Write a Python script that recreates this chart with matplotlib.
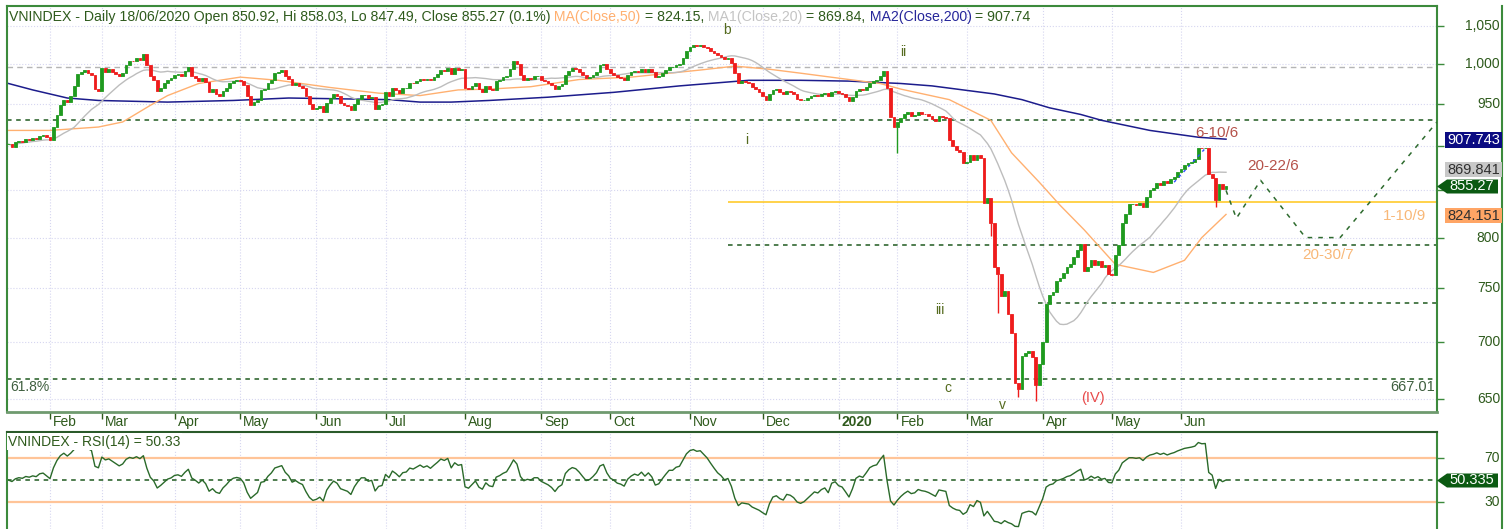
import numpy as np
import pandas as pd
import matplotlib
matplotlib.use("Agg")
import matplotlib.pyplot as plt
from matplotlib.ticker import NullLocator
from matplotlib.patches import Rectangle, Polygon
from matplotlib.lines import Line2D

plt.rcParams['font.family'] = ['Liberation Sans', 'DejaVu Sans']

# daily closes, one list per month
jan19 = [902, 899, 904, 906, 905, 908, 907, 909, 908, 912, 913, 910]
feb19 = [907, 922, 936, 948, 955, 952, 960, 972, 987, 990, 992, 988, 986, 968, 966]
mar19 = [994, 990, 993, 990, 987, 984, 988, 999, 1004, 1003, 1007, 1005, 1012, 998, 985, 979, 966, 970, 975, 980, 982]
apr19 = [986, 987, 985, 991, 996, 985, 982, 978, 982, 977, 965, 968, 962, 960, 966, 970, 975, 978, 979]
may19 = [978, 973, 960, 949, 952, 955, 967, 968, 975, 980, 988, 990, 992, 985, 981, 973, 975, 972, 970, 960, 950, 944]
jun19 = [945, 947, 940, 951, 957, 962, 959, 951, 949, 947, 942, 950, 956, 961, 961, 957, 958, 944, 949, 950]
jul19 = [964, 960, 970, 967, 963, 969, 970, 976, 975, 978, 981, 979, 981, 979, 983, 987, 992, 991, 994, 987, 994, 992, 993]
aug19 = [970, 968, 972, 976, 968, 965, 972, 968, 967, 978, 980, 983, 985, 993, 1004, 1000, 986, 980, 982, 981, 984, 984]
sep19 = [980, 978, 976, 973, 968, 972, 974, 986, 991, 994, 993, 990, 986, 982, 983, 986, 990, 998, 1000, 993]
oct19 = [988, 986, 983, 982, 980, 986, 989, 991, 990, 993, 990, 993, 990, 983, 984, 988, 992, 996, 996, 999, 1000, 1007, 1016]
nov19 = [1022, 1024, 1023, 1024, 1022, 1020, 1017, 1014, 1011, 1009, 1006, 1007, 1001, 988, 976, 978, 977, 976, 971, 968, 965]
dec19 = [960, 955, 962, 967, 968, 964, 962, 966, 965, 962, 956, 954, 955, 957, 959, 961, 960, 962, 963, 959, 965, 966]
jan20 = [963, 962, 958, 953, 958, 966, 968, 967, 971, 976, 978, 979, 985, 991, 970, 934, 922]
feb20 = [928, 933, 937, 940, 935, 936, 940, 938, 937, 935, 932, 929, 935, 934, 933, 907, 900, 895, 893, 880]
mar20 = [882, 889, 884, 890, 886, 836, 842, 815, 770, 763, 742, 747, 725, 708, 664, 659, 687, 690, 692, 686, 662, 680]
apr20 = [700, 735, 743, 746, 757, 760, 764, 770, 773, 780, 787, 793, 766, 770, 777, 772, 776, 770, 772, 763]
may20 = [762, 782, 792, 815, 825, 835, 835, 834, 836, 832, 843, 850, 853, 858, 856, 860, 858, 862, 865, 870]
jun20 = [874, 878, 880, 882, 885, 898, 897, 898, 868, 864, 840, 857, 852, 855.27]

# long lower wicks (candle index -> low)
wick_idx = [257, 284, 286, 292, 297, 349]
wick_low = [892, 802, 726, 652, 649, 832]

# moving averages (candle index, value)
ma50_idx = [0, 12, 26, 33, 41, 46, 55, 67, 78, 93, 107, 119, 130, 139, 151, 165, 180, 200, 210, 220,
            229, 243, 252, 258, 272, 284, 290, 298, 304, 311, 320, 331, 340, 345, 352]
ma50_val = [918, 918, 922, 928, 948, 960, 975, 983, 979, 970, 963, 960, 967, 968, 971, 980, 983, 992, 997, 993,
            988, 980, 975, 968, 955, 930, 892, 859, 834, 808, 773, 765, 777, 800, 824.15]
ma200_idx = [0, 7, 17, 26, 46, 65, 81, 96, 110, 119, 128, 139, 156, 175, 194, 214, 229, 243, 258, 267,
             285, 293, 301, 310, 316, 330, 344, 352]
ma200_val = [975, 967, 957, 954, 952, 954, 957, 956, 955, 952, 952, 954, 958, 964, 972, 979, 979, 978, 975, 972,
             962, 955, 945, 937, 930, 918, 910, 907.74]

# projection path drawn after the last candle
proj_idx = [352, 355, 362, 375, 385, 413]
proj_val = [850, 820, 861, 800, 800, 928]
trend_idx = [337, 346]
trend_val = [859, 897]

holidays = ["2019-02-04", "2019-02-05", "2019-02-06", "2019-02-07", "2019-02-08", "2019-04-15",
            "2019-04-29", "2019-04-30", "2019-05-01", "2019-09-02", "2020-01-01", "2020-01-23",
            "2020-01-24", "2020-01-27", "2020-01-28", "2020-01-29", "2020-04-02", "2020-04-30", "2020-05-01"]

closes = np.array(jan19 + feb19 + mar19 + apr19 + may19 + jun19 + jul19 + aug19 + sep19 + oct19
                  + nov19 + dec19 + jan20 + feb20 + mar20 + apr20 + may20 + jun20, dtype=float)
dates = pd.bdate_range("2019-01-16", "2020-06-18")
dates = dates[~dates.isin(pd.to_datetime(holidays))]
n = len(closes)
x = np.arange(n)
opens = np.concatenate([[closes[0]], closes[:-1]])

ma20 = pd.Series(closes).rolling(20, min_periods=1).mean()

# Wilder RSI(14), started from a neutral state
rsi = np.full(n, 50.0)
ag, al = 4.0, 4.0
for i in range(1, n):
    ch = closes[i] - closes[i - 1]
    ag = (ag * 13 + max(ch, 0)) / 14
    al = (al * 13 + max(-ch, 0)) / 14
    rsi[i] = 100 - 100 / (1 + ag / al)

W, H = 1510, 529
fig = plt.figure(figsize=(W / 100, H / 100), dpi=100)
def fx(px): return px / W
def fy(py): return 1 - py / H

DK = "#2e5a1c"
FRAME = "#3c8a3c"
GRID = "#d6d6f0"

ax = fig.add_axes([fx(7), fy(412), 1430 / W, 406 / H])
ax2 = fig.add_axes([fx(7), 0, 1430 / W, 97 / H])

xl = (-0.43, 413.0)
ax.set_xlim(*xl)
ax2.set_xlim(*xl)
ax.set_yscale("log")
ax.set_ylim(639.5, 1077)
ax2.set_ylim(6.4, 92.7)

# month ticks
first = pd.Series(x, index=dates).groupby([dates.year, dates.month]).first()
mpos, mlab = [], []
for (yy, mm), i in first.items():
    if i == 0:
        continue
    mpos.append(i)
    mlab.append(str(yy) if mm == 1 else pd.Timestamp(yy, mm, 1).strftime("%b"))
for a in (ax, ax2):
    a.set_xticks(mpos)
    a.set_xticklabels([])
    for p in mpos:
        a.axvline(p, color=GRID, lw=0.8, ls=":", zorder=0)
ax.tick_params(axis="x", direction="out", length=5, color=DK, width=1)
ax2.tick_params(axis="x", length=0)
for p, lab in zip(mpos, mlab):
    ax.text(p + 0.9, -0.025, lab, transform=ax.get_xaxis_transform(), ha="left", va="center",
            fontsize=10, color=DK, fontweight="bold" if lab == "2020" else "normal", clip_on=False)

# price axis (900 and 850 sit under the value boxes)
yt = [650, 700, 750, 800, 850, 900, 950, 1000, 1050]
ax.yaxis.tick_right()
ax.set_yticks(yt)
ax.yaxis.set_minor_locator(NullLocator())
ax.set_yticklabels([])
ax.tick_params(axis="y", direction="out", length=5, color=FRAME, width=1)
for v in yt:
    ax.axhline(v, color=GRID, lw=0.8, ls=":", zorder=0)
    if v in (850, 900):
        continue
    py = 399.3 - 779 * np.log(v / 650)
    fig.text(fx(1500), fy(py), f"{v:,}", ha="right", va="center", fontsize=10, color=DK)

# reference levels
dash = (0, (3, 3))
ax.axhline(996, color="#b5b5b5", lw=1, ls=(0, (4, 3)), zorder=1)
ax.axhline(930, color="#1f5a1f", lw=1.1, ls=dash, zorder=1)
ax.axhline(667.01, color="#1f5a1f", lw=1.1, ls=dash, zorder=1)
ax.hlines(792, 208, xl[1], color="#1f5a1f", lw=1.1, ls=dash, zorder=1)
ax.hlines(735.5, 297.6, xl[1], color="#1f5a1f", lw=1.1, ls=dash, zorder=1)
ax.hlines(837, 208, xl[1], color="#ffc61a", lw=1.1, zorder=1)

# moving averages
ax.plot(ma200_idx, ma200_val, color="#1c1c8c", lw=1.1, zorder=2)
ax.plot(ma50_idx, ma50_val, color="#ffb070", lw=1, zorder=2)
ax.plot(x, ma20, color="#bdbdbd", lw=1, zorder=2)

# candles
up = closes >= opens
col = np.where(up, "#1f9a1f", "#ee1c1c")
ax.vlines(wick_idx, wick_low, [min(opens[i], closes[i]) for i in wick_idx],
          color=[col[i] for i in wick_idx], lw=1, zorder=3)
ax.bar(x, closes - opens, bottom=opens, width=0.8, color=col, edgecolor=col, lw=0.6, zorder=3)

ax.plot(proj_idx, proj_val, color="#2e6b2e", lw=1.1, ls=(0, (3, 4)), zorder=3)
ax.plot(trend_idx, trend_val, color="#3050ff", lw=1, ls=(0, (2, 3)), zorder=3)

# wave labels
OL = "#556b1f"
for s, xi, yv in [("b", 207.7, 1044), ("ii", 258.6, 1015), ("i", 213.5, 906.8), ("iii", 269.3, 729),
                  ("c", 271.6, 659.5), ("v", 287.5, 645.3)]:
    ax.text(xi, yv, s, ha="center", va="center", fontsize=10, color=OL, zorder=5)
ax.text(313.5, 651, "(IV)", ha="center", va="center", fontsize=10.5, color="#e84a4a", zorder=5)
ax.text(349.4, 915, "6-10/6", ha="center", va="center", fontsize=11, color="#b5524a", zorder=5)
ax.text(365.6, 877, "20-22/6", ha="center", va="center", fontsize=11, color="#b5524a", zorder=5)
ax.text(403.6, 822.5, "1-10/9", ha="center", va="center", fontsize=11, color="#f8b878", zorder=5)
ax.text(381.6, 782.3, "20-30/7", ha="center", va="center", fontsize=11, color="#f8b878", zorder=5)
ax.text(0.6, 660.3, "61.8%", ha="left", va="center", fontsize=10, color="#3f5f3f", zorder=5)
ax.text(412.4, 660.3, "667.01", ha="right", va="center", fontsize=10.5, color="#3f5f3f", zorder=5)

# RSI panel
ax2.axhline(70, color="#ffc498", lw=1.6, zorder=1)
ax2.axhline(30, color="#ffc498", lw=1.6, zorder=1)
ax2.axhline(50, color="#1f5a1f", lw=1.1, ls=dash, zorder=1)
ax2.plot(x, rsi, color="#2a6a2a", lw=1, zorder=2)
ax2.yaxis.tick_right()
ax2.set_yticks([30, 70])
ax2.set_yticklabels([])
ax2.tick_params(axis="y", direction="out", length=5, color=FRAME, width=1)
for v in (30, 70):
    fig.text(fx(1500), fy(480 - (v - 50) * 1.125), str(v), ha="right", va="center", fontsize=10, color=DK)
ax2.text(0.001, 0.9, "VNINDEX - RSI(14) = 50.33", transform=ax2.transAxes, ha="left", va="center",
         fontsize=10, color=DK, zorder=6, bbox=dict(facecolor="white", edgecolor="none", pad=1))

# frames
for a in (ax, ax2):
    for sp in a.spines.values():
        sp.set_color(FRAME)
        sp.set_linewidth(1.5)
ax.spines["bottom"].set_color("#6f9a6f")
ax.spines["bottom"].set_linewidth(2)
ax2.spines["top"].set_color("#2a5a2a")
ax2.spines["bottom"].set_visible(False)
fig.add_artist(Line2D([fx(1502), fx(1502)], [fy(6), 0], color=FRAME, lw=1.5))

# title line in several colours
r = fig.canvas.get_renderer()
tx = fx(9)
parts = [("VNINDEX - Daily 18/06/2020 Open 850.92, Hi 858.03, Lo 847.49, Close 855.27 (0.1%)", DK),
         (" MA(Close,50)", "#ffb070"), (" = 824.15,", DK), (" MA1(Close,20)", "#c4c4c4"),
         (" = 869.84,", DK), (" MA2(Close,200)", "#26269a"), (" = 907.74", DK)]
for s, c in parts:
    t = fig.text(tx, fy(17), s, ha="left", va="center", fontsize=10.2, color=c)
    tx += t.get_window_extent(renderer=r).width / W

# value boxes on the right axis
def box(y0, y1, fc, label, tc):
    fig.add_artist(Rectangle((fx(1445), fy(y1)), 57 / W, (y1 - y0) / H, transform=fig.transFigure,
                             facecolor=fc, edgecolor="none", zorder=8))
    fig.text(fx(1473.5), fy((y0 + y1) / 2), label, ha="center", va="center", fontsize=10.5, color=tc, zorder=9)

def arrow_box(yc, label):
    pts = [(1437, yc), (1447, yc - 7), (1498, yc - 7), (1498, yc + 7), (1447, yc + 7)]
    fig.add_artist(Polygon([(fx(a), fy(b)) for a, b in pts], closed=True, transform=fig.transFigure,
                           facecolor="#0b5a12", edgecolor="none", zorder=8))
    fig.text(fx(1472), fy(yc), label, ha="center", va="center", fontsize=10.5, color="white", zorder=9)

box(132, 148, "#0b0b82", "907.743", "white")
box(162, 177, "#c8c8c8", "869.841", "#303030")
box(208, 223, "#ffa565", "824.151", "#303030")
arrow_box(186.5, "855.27")
arrow_box(480.5, "50.335")

fig.savefig("out.png", dpi=100)
